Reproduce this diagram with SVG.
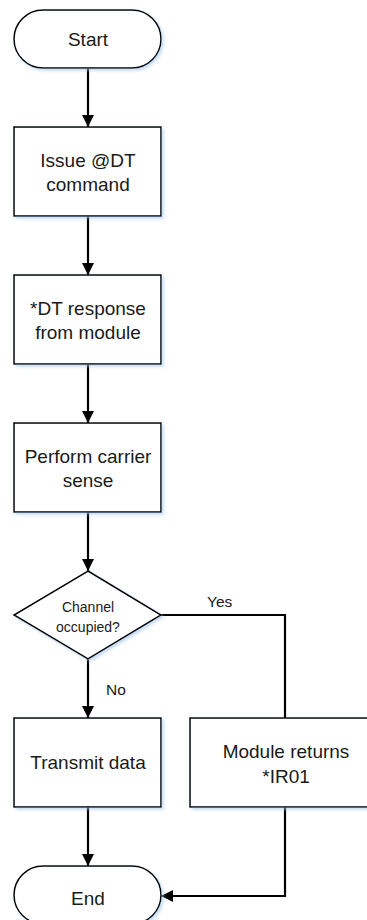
<svg xmlns="http://www.w3.org/2000/svg" width="367" height="920" viewBox="0 0 367 920">
<style>
.shape{fill:#fff;stroke:#000;stroke-width:1.5;filter:url(#sh)}
.t{font-family:"Liberation Sans",Arial,sans-serif;font-size:19px;fill:#1a1a1a;text-anchor:middle}
.ts{font-family:"Liberation Sans",Arial,sans-serif;font-size:14px;fill:#1a1a1a;text-anchor:middle}
.lb{font-family:"Liberation Sans",Arial,sans-serif;font-size:15.5px;fill:#1a1a1a}
.c{fill:none;stroke:#000;stroke-width:2.2}
</style>
<defs>
<filter id="sh" x="-10%" y="-10%" width="130%" height="130%">
<feGaussianBlur in="SourceAlpha" stdDeviation="1.5" result="b"/>
<feOffset dx="1.5" dy="2" in="b" result="o"/>
<feFlood flood-color="#9fc3e8" flood-opacity="0.6"/>
<feComposite in2="o" operator="in" result="s"/>
<feMerge><feMergeNode in="s"/><feMergeNode in="SourceGraphic"/></feMerge>
</filter>
<marker id="ah" viewBox="0 0 12 12" refX="12" refY="6" markerWidth="12" markerHeight="12" markerUnits="userSpaceOnUse" orient="auto">
<path d="M0,0 L12,6 L0,12 Z" fill="#000"/>
</marker>
</defs>
<g id="connectors">
<line class="c" x1="88" y1="68" x2="88" y2="127" marker-end="url(#ah)"/>
<line class="c" x1="88" y1="216" x2="88" y2="275" marker-end="url(#ah)"/>
<line class="c" x1="88" y1="364" x2="88" y2="423" marker-end="url(#ah)"/>
<line class="c" x1="88" y1="512" x2="88" y2="571" marker-end="url(#ah)"/>
<line class="c" x1="88" y1="659" x2="88" y2="718" marker-end="url(#ah)"/>
<polyline class="c" points="161,615 285,615 285,718"/>
<line class="c" x1="88" y1="807" x2="88" y2="866" marker-end="url(#ah)"/>
<polyline class="c" points="285,807 285,896 161,896" marker-end="url(#ah)"/>
<text class="lb" x="207" y="607">Yes</text>
<text class="lb" x="106" y="695">No</text>
</g>
<g id="start">
<rect class="shape" x="14" y="10" width="147" height="58" rx="29" ry="29"/>
<text class="t" x="88" y="46">Start</text>
</g>
<g id="issue">
<rect class="shape" x="14" y="127" width="147" height="89"/>
<text class="t" x="88" y="167">Issue @DT</text>
<text class="t" x="88" y="191">command</text>
</g>
<g id="response">
<rect class="shape" x="14" y="275" width="147" height="89"/>
<text class="t" x="88" y="315">*DT response</text>
<text class="t" x="88" y="339">from module</text>
</g>
<g id="carrier">
<rect class="shape" x="14" y="423" width="147" height="89"/>
<text class="t" x="88" y="463">Perform carrier</text>
<text class="t" x="88" y="487">sense</text>
</g>
<g id="decision">
<polygon class="shape" points="88,571 161,615 88,659 14,615"/>
<text class="ts" x="88" y="612">Channel</text>
<text class="ts" x="88" y="632">occupied?</text>
</g>
<g id="transmit">
<rect class="shape" x="14" y="718" width="147" height="89"/>
<text class="t" x="88" y="769">Transmit data</text>
</g>
<g id="module">
<rect class="shape" x="190" y="718" width="190" height="89"/>
<text class="t" x="286" y="758">Module returns</text>
<text class="t" x="286" y="783">*IR01</text>
</g>
<g id="end">
<rect class="shape" x="14" y="866" width="147" height="58" rx="29" ry="29"/>
<text class="t" x="88" y="905">End</text>
</g>
</svg>
